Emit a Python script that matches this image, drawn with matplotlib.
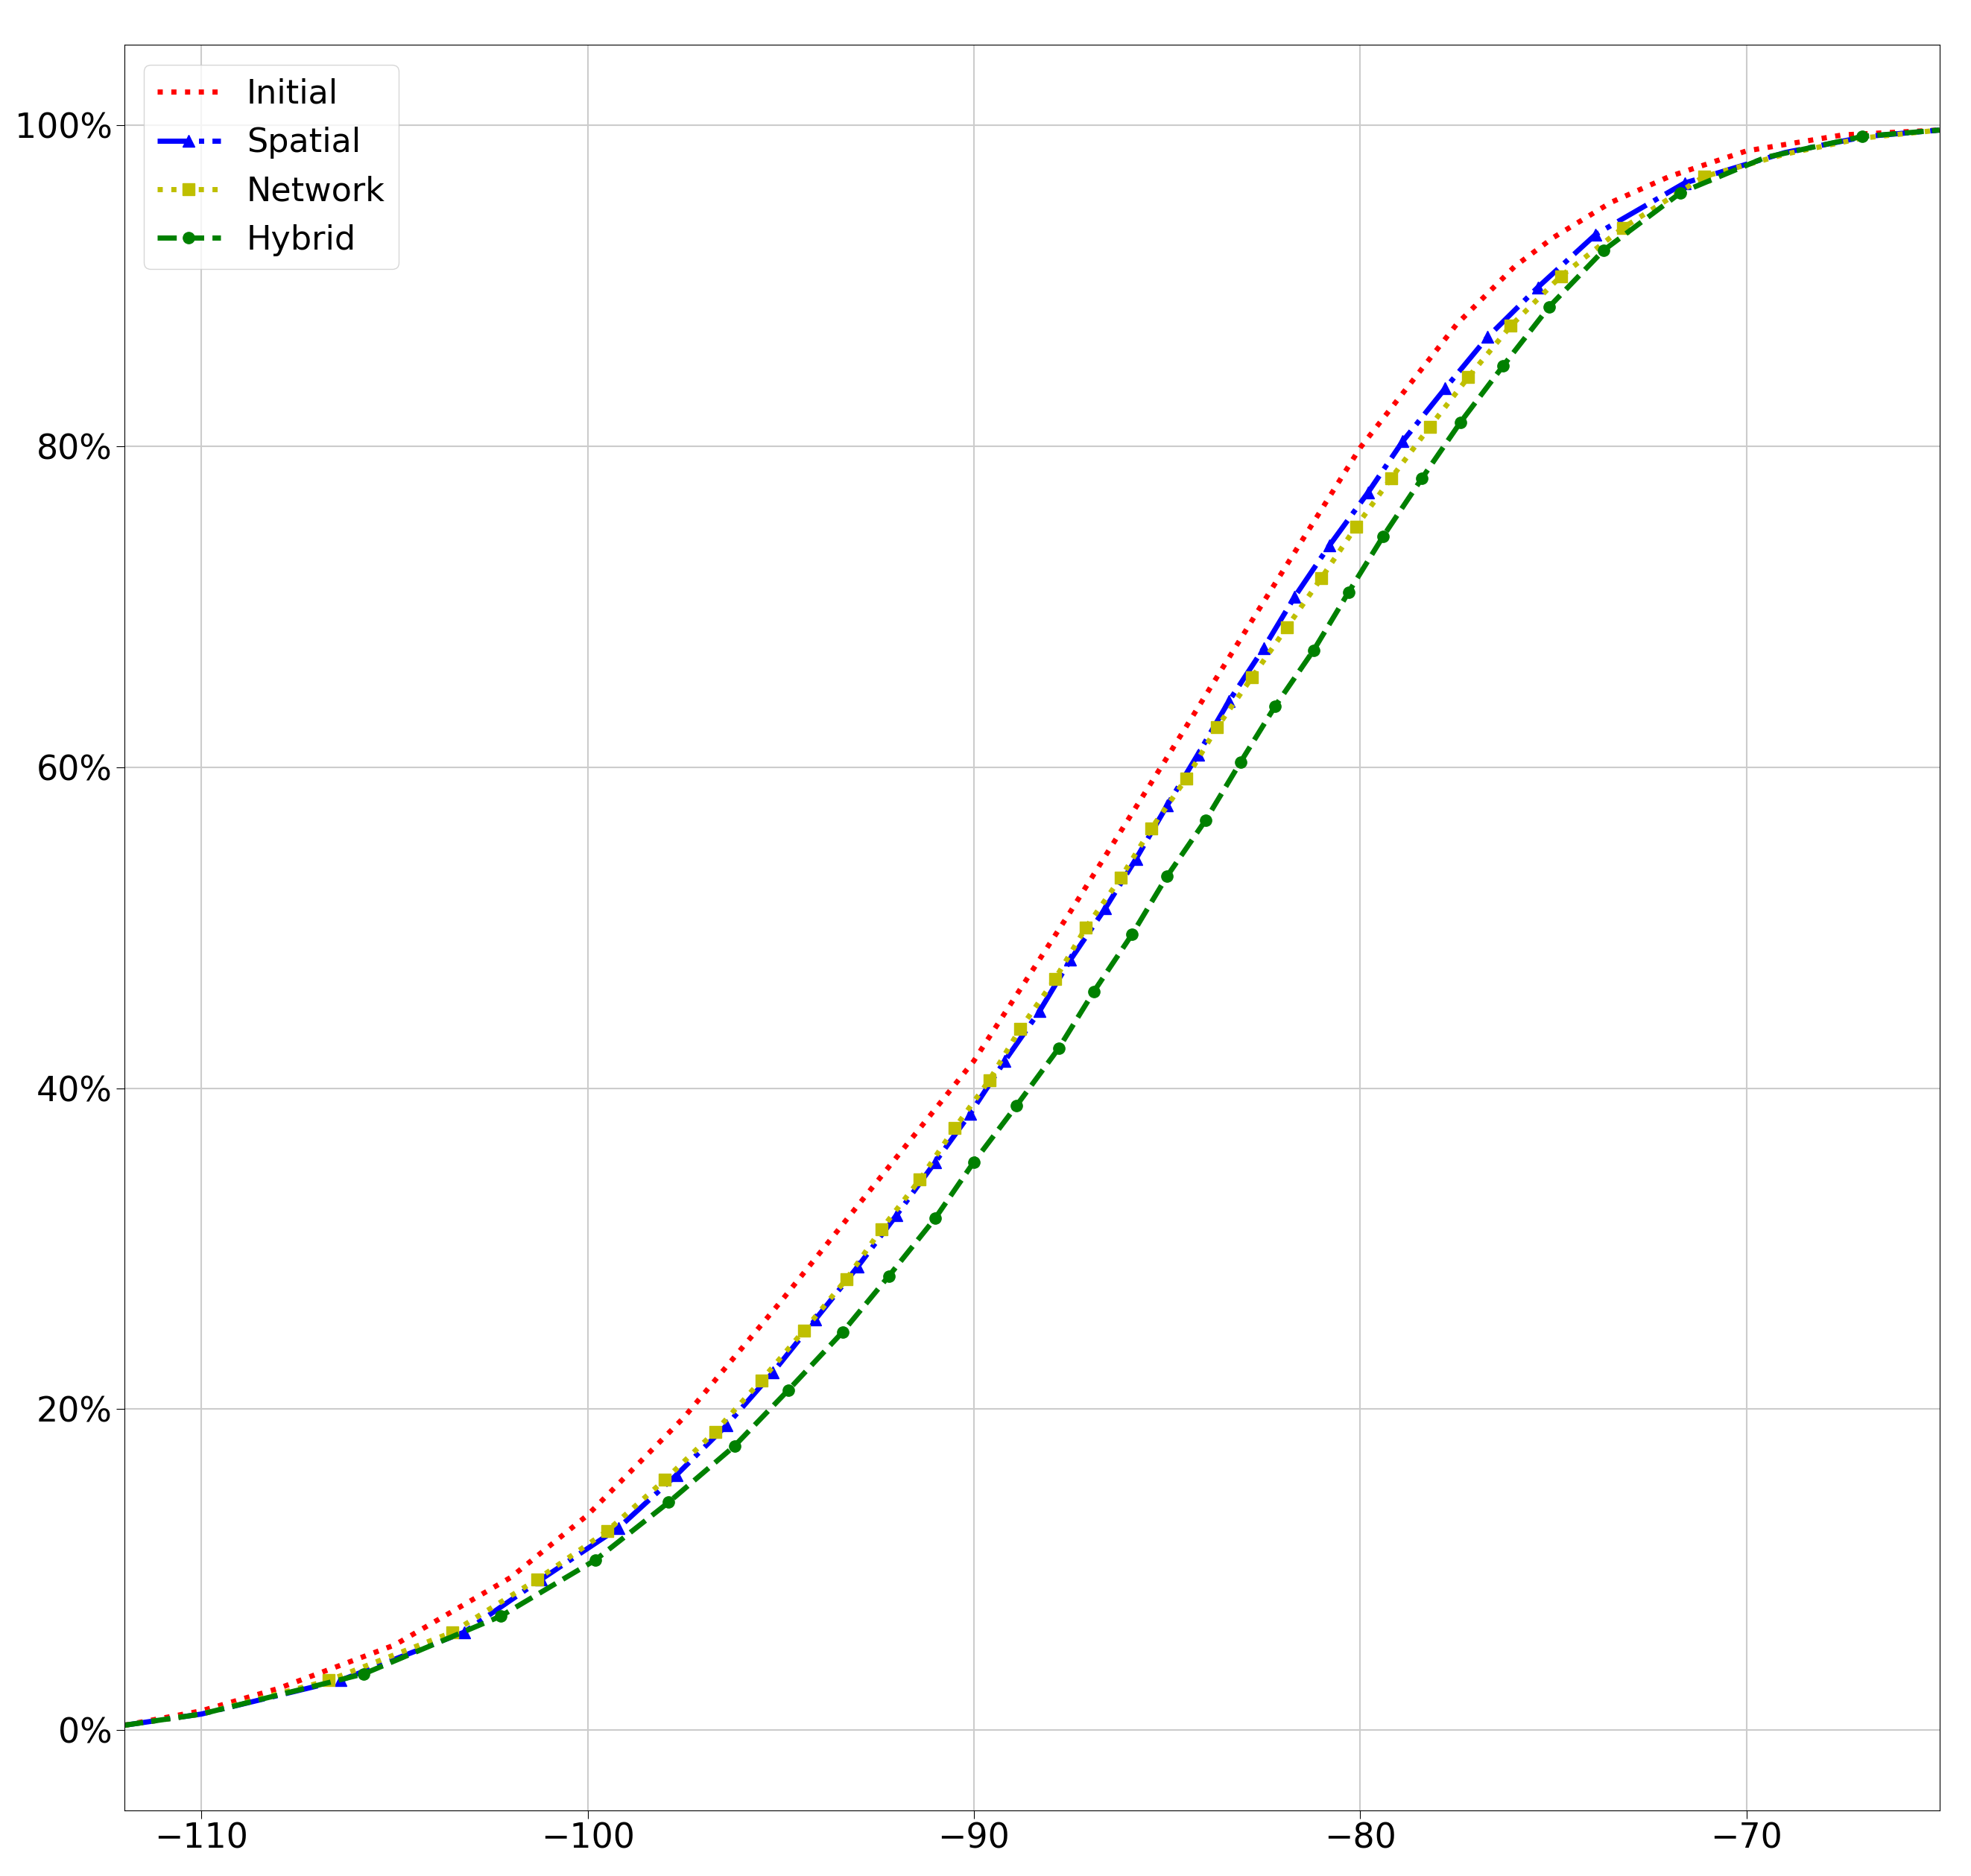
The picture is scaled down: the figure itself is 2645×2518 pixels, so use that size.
import matplotlib.pyplot as plt
from matplotlib.ticker import PercentFormatter

# Initial (red dotted, no markers)
init_x = [-112, -110, -108, -105, -102, -100, -97.5, -95, -92.5, -90, -87.5, -85, -82.5, -80, -77.5, -76, -75, -73.5, -72, -70, -67.5, -65]
init_y = [0.3, 1.2, 2.6, 5.3, 9.5, 13.4, 19.5, 26.7, 34.2, 41.7, 51.0, 60.6, 70.3, 79.9, 87.6, 91.2, 93.0, 95.2, 96.8, 98.4, 99.4, 99.7]

spat_x = [-112, -110, -106.4, -103.2, -101.2, -99.2, -97.7, -96.4, -95.2, -94.1, -93.0, -92.0, -91.0, -90.1, -89.2, -88.3,
          -87.5, -86.6, -85.8, -85.0, -84.2, -83.4, -82.5, -81.7, -80.8, -79.8, -78.9, -77.8, -76.7, -75.4, -73.9, -71.6,
          -69.0, -66.9, -65]
spat_y = [0.3, 1.0, 3.1, 6.1, 9.4, 12.6, 15.9, 19.0, 22.3, 25.6, 28.9, 32.1, 35.4, 38.4, 41.7, 44.8,
          48.0, 51.2, 54.3, 57.6, 60.8, 64.1, 67.4, 70.6, 73.8, 77.1, 80.3, 83.6, 86.8, 89.9, 93.2, 96.4,
          98.3, 99.3, 99.7]

net_x = [-112, -110, -106.7, -103.5, -101.3, -99.5, -98.0, -96.7, -95.5, -94.4, -93.3, -92.4, -91.4, -90.5, -89.6, -88.8,
         -87.9, -87.1, -86.2, -85.4, -84.5, -83.7, -82.8, -81.9, -81.0, -80.1, -79.2, -78.2, -77.2, -76.1, -74.8, -73.2,
         -71.1, -69.0, -67.0, -65]
net_y = [0.3, 1.0, 3.1, 6.1, 9.4, 12.4, 15.6, 18.6, 21.8, 24.9, 28.1, 31.2, 34.3, 37.5, 40.5, 43.7,
         46.8, 50.0, 53.1, 56.2, 59.3, 62.5, 65.6, 68.7, 71.8, 75.0, 78.0, 81.2, 84.3, 87.5, 90.6, 93.6,
         96.8, 98.2, 99.2, 99.7]

hyb_x = [-112, -110, -105.8, -102.25, -99.8, -97.9, -96.2, -94.8, -93.4, -92.2, -91.0, -90.0, -88.9, -87.8, -86.9, -85.9,
         -85.0, -84.0, -83.1, -82.2, -81.2, -80.3, -79.4, -78.4, -77.4, -76.3, -75.1, -73.7, -71.7, -69.5, -67.0, -65]
hyb_y = [0.3, 1.0, 3.5, 7.1, 10.6, 14.2, 17.7, 21.2, 24.8, 28.3, 31.9, 35.4, 38.9, 42.5, 46.0, 49.6,
         53.2, 56.7, 60.3, 63.8, 67.3, 70.9, 74.4, 78.0, 81.5, 85.0, 88.7, 92.2, 95.8, 98.0, 99.3, 99.7]

fig = plt.figure(figsize=(26.45, 25.18), dpi=100)
ax = fig.add_axes([0.063, 0.035, 0.921, 0.941])
lw, ms = 5, 11
ax.plot(init_x, init_y, color='red', linestyle=':', linewidth=lw, label='Initial')
ax.plot(spat_x, spat_y, color='blue', linestyle='-.', linewidth=lw, marker='^', markersize=ms,
        markevery=list(range(2, len(spat_x) - 3)), label='Spatial')
ax.plot(net_x, net_y, color='y', linestyle=':', linewidth=lw, marker='s', markersize=ms,
        markevery=list(range(2, len(net_x) - 3)), label='Network')
ax.plot(hyb_x, hyb_y, color='green', linestyle='--', linewidth=lw, marker='o', markersize=ms,
        markevery=list(range(2, len(hyb_x) - 3)) + [len(hyb_x) - 2], label='Hybrid')

ax.set_xlim(-112, -65)
ax.set_ylim(-5, 105)
ax.set_xticks([-110, -100, -90, -80, -70])
ax.set_yticks([0, 20, 40, 60, 80, 100])
ax.yaxis.set_major_formatter(PercentFormatter(decimals=0))
ax.tick_params(labelsize=33, length=8)
ax.grid(True, color='#cccccc', linewidth=1.5)
ax.legend(loc='upper left', fontsize=32, handlelength=1.9, borderaxespad=0.6)
fig.savefig('out.png')
